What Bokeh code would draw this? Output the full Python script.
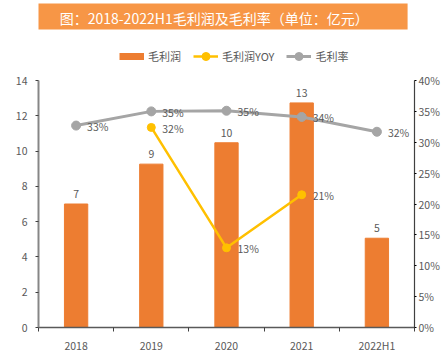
from bokeh.plotting import figure
from bokeh.layouts import column
from bokeh.models import (ColumnDataSource, Range1d, LinearAxis, FixedTicker,
                          NumeralTickFormatter, Legend, LegendItem, LabelSet)
from bokeh.core.properties import value
from bokeh.embed import file_html
from bokeh.resources import INLINE

title_text = ["图：2018-2022H1毛利润及毛利率（单位：亿元）"]
categories = ["2018", "2019", "2020", "2021", "2022H1"]
gross_profit = [7.0, 9.26, 10.47, 12.73, 5.06]          # 毛利润 (亿元)
gross_profit_labels = ["7", "9", "10", "13", "5"]
gross_margin = [0.327, 0.350, 0.351, 0.341, 0.317]      # 毛利率
gross_margin_labels = ["33%", "35%", "35%", "34%", "32%"]
yoy_categories = ["2019", "2020", "2021"]
yoy = [0.324, 0.129, 0.215]                              # 毛利润YOY
yoy_labels = ["32%", "13%", "21%"]
left_ticks = [0, 2, 4, 6, 8, 10, 12, 14]
right_ticks = [0, 0.05, 0.10, 0.15, 0.20, 0.25, 0.30, 0.35, 0.40]
series_names = ["毛利润", "毛利润YOY", "毛利率"]

FONT = "Noto Sans CJK SC"
TXT = "#595959"
ORANGE = "#ED7D31"
YELLOW = "#FFC000"
GRAY = "#A5A5A5"
BANNER = "#F79646"

W = 442
HH = 70          # header: banner + legend
HM = 285         # main chart
BL, BR = 38, 23  # left/right borders (frame from x=38 to x=419)

# ---------------- header: banner + legend ----------------
h = figure(width=W, height=HH, output_backend="svg", toolbar_location=None,
           x_range=Range1d(BL, W - BR), y_range=Range1d(0, HH),
           min_border_left=BL, min_border_right=BR, min_border_top=0,
           min_border_bottom=0, x_axis_type=None, y_axis_type=None)
h.outline_line_color = None
h.grid.visible = False
h.quad(left=[25], right=[412], bottom=[HH - 29], top=[HH - 3],
       fill_color=BANNER, line_color=None)
h.text(x=[216], y=[HH - 17], text=title_text, text_font=value(FONT),
       text_font_size="14px", text_color="white", text_align="center",
       text_baseline="middle")

# legend swatches (same styles as the chart's marks; drawn off-range)
lg_bar = h.line(x=[0], y=[-100], color=ORANGE, line_width=7, line_cap="butt")
lg_yoy_l = h.line(x=[0], y=[-100], color=YELLOW, line_width=2.5)
lg_yoy_p = h.scatter(x=[0], y=[-100], color=YELLOW, size=8)
lg_gm_l = h.line(x=[0], y=[-100], color=GRAY, line_width=3)
lg_gm_p = h.scatter(x=[0], y=[-100], color=GRAY, size=9)
legend = Legend(items=[LegendItem(label=series_names[0], renderers=[lg_bar]),
                       LegendItem(label=series_names[1], renderers=[lg_yoy_l, lg_yoy_p]),
                       LegendItem(label=series_names[2], renderers=[lg_gm_l, lg_gm_p])],
                orientation="horizontal", location=(119 - BL, 4),
                glyph_width=25, glyph_height=20, label_height=12, label_standoff=4,
                spacing=12, padding=0, margin=0,
                label_text_font=FONT, label_text_font_size="11px",
                label_text_color=TXT, border_line_color=None,
                background_fill_alpha=0)
h.add_layout(legend, "center")

# ---------------- main chart ----------------
xpos = [i + 0.5 for i in range(len(categories))]
ypos = [categories.index(c) + 0.5 for c in yoy_categories]

bar_src = ColumnDataSource(dict(x=xpos, y=gross_profit, lbl=gross_profit_labels))
gm_src = ColumnDataSource(dict(x=xpos, y=gross_margin, lbl=gross_margin_labels))
yoy_src = ColumnDataSource(dict(x=ypos, y=yoy, lbl=yoy_labels))

p = figure(width=W, height=HM, output_backend="svg", toolbar_location=None,
           x_range=Range1d(0, len(categories)), y_range=Range1d(0, 14),
           min_border_left=BL, min_border_right=BR, min_border_top=10,
           min_border_bottom=24)
p.extra_y_ranges = {"pct": Range1d(0, 0.4)}
p.outline_line_color = None
p.grid.visible = False

bars = p.vbar(x="x", top="y", width=0.31, source=bar_src, color=ORANGE)
gm_line = p.line(x="x", y="y", source=gm_src, color=GRAY, line_width=3, y_range_name="pct")
gm_pts = p.scatter(x="x", y="y", source=gm_src, color=GRAY, size=9, y_range_name="pct")
yoy_line = p.line(x="x", y="y", source=yoy_src, color=YELLOW, line_width=2.5, y_range_name="pct")
yoy_pts = p.scatter(x="x", y="y", source=yoy_src, color=YELLOW, size=8, y_range_name="pct")

lbl_kw = dict(text_font=value(FONT), text_font_size="10.5px", text_color=TXT)
p.add_layout(LabelSet(x="x", y="y", text="lbl", source=bar_src, y_offset=6,
                      text_align="center", text_baseline="bottom", **lbl_kw))
p.add_layout(LabelSet(x="x", y="y", text="lbl", source=gm_src, x_offset=11, y_offset=-1,
                      text_align="left", text_baseline="middle", y_range_name="pct", **lbl_kw))
p.add_layout(LabelSet(x="x", y="y", text="lbl", source=yoy_src, x_offset=11, y_offset=-1,
                      text_align="left", text_baseline="middle", y_range_name="pct", **lbl_kw))

# axes
ya = p.yaxis[0]
ya.ticker = FixedTicker(ticks=left_ticks)
ya.axis_line_color = "#868686"
ya.axis_line_width = 2
ya.major_tick_out = 3
ya.major_tick_in = 0
ya.minor_tick_out = 0
ya.minor_tick_in = 0
ya.major_tick_line_color = "#404040"
ya.major_label_standoff = 8
ya.major_label_text_font = FONT
ya.major_label_text_font_size = "10.5px"
ya.major_label_text_color = TXT

xa = p.xaxis[0]
xa.ticker = FixedTicker(ticks=xpos, minor_ticks=list(range(len(categories) + 1)))
xa.major_label_overrides = {x: c for x, c in zip(xpos, categories)}
xa.axis_line_color = "#595959"
xa.axis_line_width = 1.5
xa.major_tick_out = 0
xa.major_tick_in = 0
xa.minor_tick_out = 4
xa.minor_tick_in = 0
xa.minor_tick_line_color = "#404040"
xa.major_label_standoff = 6
xa.major_label_text_font = FONT
xa.major_label_text_font_size = "10.5px"
xa.major_label_text_color = TXT

ra = LinearAxis(y_range_name="pct", ticker=FixedTicker(ticks=right_ticks),
                formatter=NumeralTickFormatter(format="0%"))
ra.axis_line_color = "#404040"
ra.axis_line_width = 1.2
ra.major_tick_out = 2
ra.major_tick_in = 0
ra.minor_tick_out = 0
ra.minor_tick_in = 0
ra.major_label_standoff = 2
ra.major_label_text_font = FONT
ra.major_label_text_font_size = "10.5px"
ra.major_label_text_color = TXT
p.add_layout(ra, "right")

layout = column(h, p, spacing=0)
open("out.html", "w").write(file_html(layout, INLINE))
